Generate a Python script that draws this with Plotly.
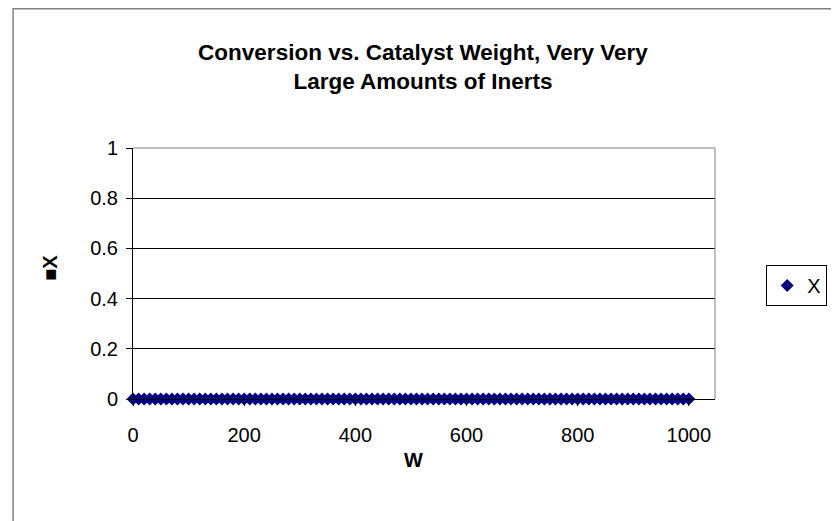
import plotly.graph_objects as go

# catalyst weight W and conversion X (all practically zero with this many inerts)
w_values = [
    0, 10, 20, 30, 40, 50, 60, 70, 80, 90,
    100, 110, 120, 130, 140, 150, 160, 170, 180, 190,
    200, 210, 220, 230, 240, 250, 260, 270, 280, 290,
    300, 310, 320, 330, 340, 350, 360, 370, 380, 390,
    400, 410, 420, 430, 440, 450, 460, 470, 480, 490,
    500, 510, 520, 530, 540, 550, 560, 570, 580, 590,
    600, 610, 620, 630, 640, 650, 660, 670, 680, 690,
    700, 710, 720, 730, 740, 750, 760, 770, 780, 790,
    800, 810, 820, 830, 840, 850, 860, 870, 880, 890,
    900, 910, 920, 930, 940, 950, 960, 970, 980, 990,
    1000,
]
x_values = [
    0, 0, 0, 0, 0, 0, 0, 0, 0, 0,
    0, 0, 0, 0, 0, 0, 0, 0, 0, 0,
    0, 0, 0, 0, 0, 0, 0, 0, 0, 0,
    0, 0, 0, 0, 0, 0, 0, 0, 0, 0,
    0, 0, 0, 0, 0, 0, 0, 0, 0, 0,
    0, 0, 0, 0, 0, 0, 0, 0, 0, 0,
    0, 0, 0, 0, 0, 0, 0, 0, 0, 0,
    0, 0, 0, 0, 0, 0, 0, 0, 0, 0,
    0, 0, 0, 0, 0, 0, 0, 0, 0, 0,
    0, 0, 0, 0, 0, 0, 0, 0, 0, 0,
    0,
]
x_ticks = [0, 200, 400, 600, 800, 1000]
y_ticks = [0, 0.2, 0.4, 0.6, 0.8, 1]
y_tick_text = ["0", "0.2", "0.4", "0.6", "0.8", "1"]

font = "Liberation Sans, Arial, sans-serif"

fig = go.Figure(
    data=go.Scatter(
        x=w_values,
        y=x_values,
        mode="markers",
        name="X",
        marker=dict(symbol="diamond", size=10, color="#000080",
                    line=dict(width=0)),
        cliponaxis=False,
    )
)

# page body adds an 8px margin, so the figure is 8px smaller than the window
fig.update_layout(
    width=831,
    height=513,
    paper_bgcolor="white",
    plot_bgcolor="white",
    margin=dict(l=125, r=104, t=140, b=122),
    font=dict(family=font, size=20, color="black"),
    title=dict(
        text="<b>Conversion vs. Catalyst Weight, Very Very<br>Large Amounts of Inerts</b>",
        xref="container", x=0.4994, xanchor="center",
        yref="container", y=0.8986, yanchor="middle",
        font=dict(family=font, size=22.5, color="black"),
    ),
    xaxis=dict(
        range=[0, 1047],
        tickvals=x_ticks,
        ticks="outside", ticklen=6, tickcolor="black",
        ticklabelstandoff=12,
        showline=True, linecolor="black", linewidth=1,
        showgrid=False, zeroline=False,
    ),
    yaxis=dict(
        range=[0, 1],
        tickvals=y_ticks,
        ticktext=y_tick_text,
        ticks="outside", ticklen=6, tickcolor="black",
        ticklabelstandoff=4,
        showline=True, linecolor="black", linewidth=1,
        showgrid=True, gridcolor="black", gridwidth=1,
        zeroline=False,
    ),
    annotations=[
        dict(text="<b>W</b>", xref="paper", yref="paper",
             x=0.4817, y=-0.243, xanchor="center", yanchor="middle",
             showarrow=False, font=dict(family=font, size=20)),
        dict(text="<b>■X</b>", xref="paper", yref="paper",
             x=-0.142, y=0.524, xanchor="center", yanchor="middle",
             textangle=-90, showarrow=False,
             font=dict(family=font, size=20)),
    ],
    showlegend=True,
    legend=dict(
        x=1.088, xanchor="left", y=0.534, yanchor="top",
        bordercolor="black", borderwidth=1,
        font=dict(family=font, size=20),
        itemwidth=30,
    ),
    shapes=[
        # gray top/right border of plot area
        dict(type="line", xref="paper", yref="paper", x0=0, x1=1, y0=1, y1=1,
             line=dict(color="#808080", width=1)),
        dict(type="line", xref="paper", yref="paper", x0=1, x1=1, y0=0, y1=1,
             line=dict(color="#808080", width=1)),
        # chart area border
        dict(type="rect", xref="paper", yref="paper",
             x0=-0.206, x1=1.5, y0=-0.8, y1=1.555,
             line=dict(color="#808080", width=1.5)),
    ],
)

fig.write_html("out.html")
